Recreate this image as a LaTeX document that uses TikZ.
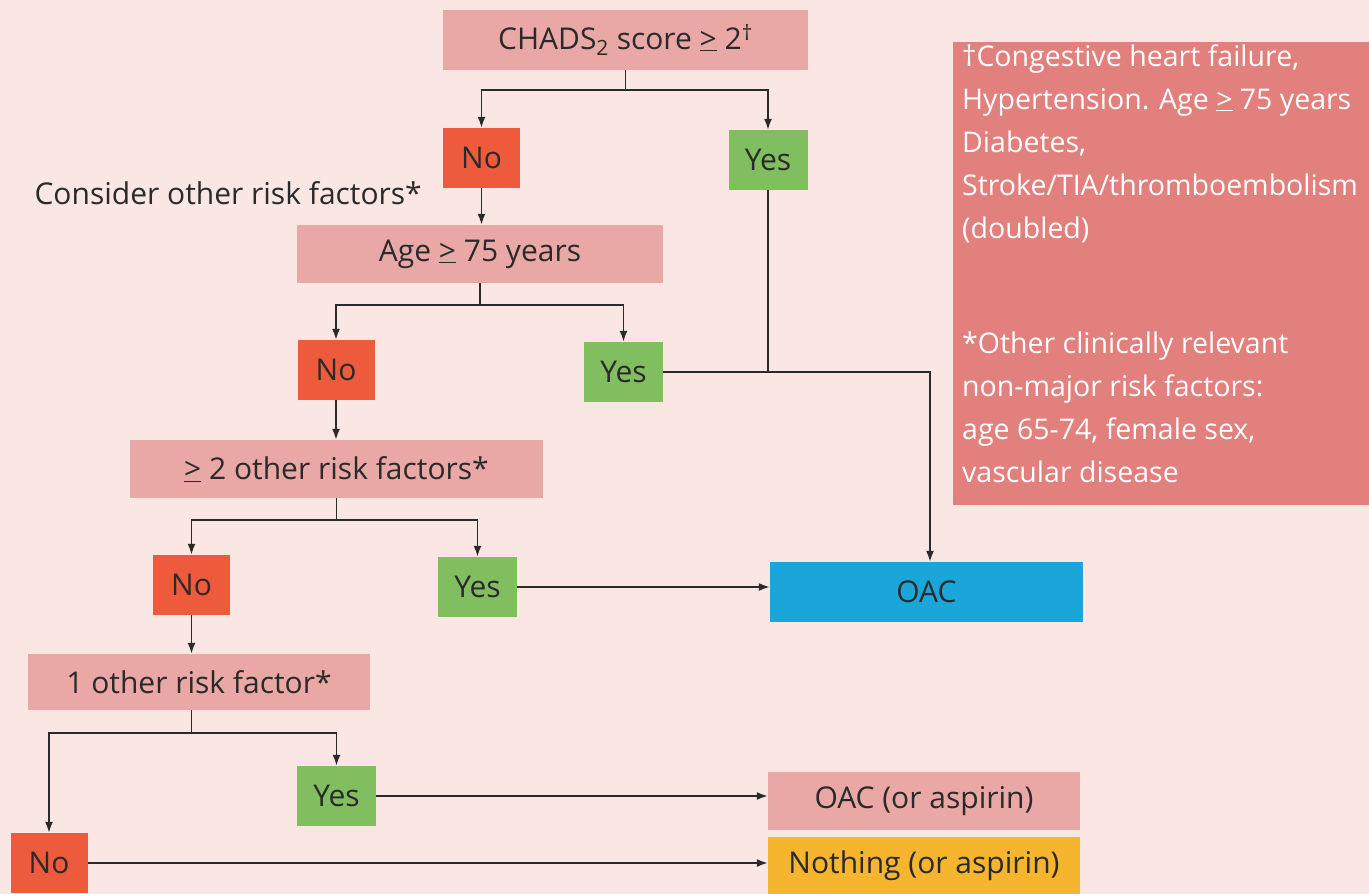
\documentclass[tikz,border=0pt]{standalone}
\usepackage{fontspec}
\setmainfont{Open Sans}
\usetikzlibrary{arrows.meta}
\definecolor{bgc}{HTML}{FAE7E4}
\definecolor{pinkc}{HTML}{E9A8A6}
\definecolor{redc}{HTML}{EE5A3C}
\definecolor{greenc}{HTML}{80BE60}
\definecolor{bluec}{HTML}{1BA6DA}
\definecolor{orangec}{HTML}{F5B52E}
\definecolor{notec}{HTML}{E1807C}
\definecolor{inkc}{HTML}{2A2A2A}
\newcommand{\gequ}{\underline{>}}
\begin{document}
\begin{tikzpicture}[x=1pt,y=-1pt,
  box/.style={inner sep=0pt, align=center, text=inkc, font=\fontsize{30}{34}\selectfont},
  pinkbox/.style={box, fill=pinkc},
  nobox/.style={box, fill=redc, minimum width=77pt, minimum height=60pt},
  yesbox/.style={box, fill=greenc, minimum width=79pt, minimum height=60pt},
  conn/.style={draw=inkc, line width=1.8pt},
  arr/.style={conn, -{Latex[length=11pt,width=8pt]}},
  notetext/.style={inner sep=0pt, align=left, anchor=north west, text=white,
    font=\fontsize{28.5}{43}\selectfont}
]
\fill[bgc] (0,0) rectangle (1369,894);
\useasboundingbox (0,0) rectangle (1369,894);

% note box
\fill[notec] (953,42) rectangle (1369,505);
\node[notetext] (note1) at (962,44) {†Congestive heart failure,\\Hypertension. Age \gequ{} 75 years\\Diabetes,\\Stroke/TIA/thromboembolism\\(doubled)};
\node[notetext] (note2) at (962,332) {*Other clinically relevant\\non-major risk factors:\\age 65-74, female sex,\\vascular disease};

% boxes
\node[pinkbox, minimum width=365pt, minimum height=60pt] (chads) at (625.5,40) {CHADS\textsubscript{2} score \gequ{} 2\textsuperscript{†}};
\node[nobox] (no1) at (481.5,158) {No};
\node[yesbox] (yes1) at (768,160) {Yes};
\node[box, anchor=east] (consider) at (422,193) {Consider other risk factors*};
\node[pinkbox, minimum width=366pt, minimum height=58pt] (age) at (480,254) {Age \gequ{} 75 years};
\node[nobox] (no2) at (336,370) {No};
\node[yesbox] (yes2) at (623.5,372) {Yes};
\node[pinkbox, minimum width=413pt, minimum height=58pt] (two) at (336.5,469) {\gequ{} 2 other risk factors*};
\node[nobox] (no3) at (191.5,585) {No};
\node[yesbox] (yes3) at (477.5,587) {Yes};
\node[box, fill=bluec, minimum width=313pt, minimum height=60pt] (oac) at (926.5,592) {OAC};
\node[pinkbox, minimum width=342pt, minimum height=56pt] (one) at (199,682) {1 other risk factor*};
\node[yesbox] (yes4) at (336.5,796) {Yes};
\node[nobox] (no4) at (49,863) {No};
\node[pinkbox, minimum width=312pt, minimum height=58pt] (oacasp) at (924,801) {OAC (or aspirin)};
\node[box, fill=orangec, minimum width=312pt, minimum height=57pt] (nothing) at (924,865.5) {Nothing (or aspirin)};

% connectors
\coordinate (s1) at (625.5,90);
\draw[conn] (chads.south) -- (s1);
\draw[arr] (s1) -| (no1.north);
\draw[arr] (s1) -| (yes1.north);
\draw[arr] (no1.south) -- (age.north -| no1.south);

\coordinate (s2) at (480,305);
\draw[conn] (age.south) -- (s2);
\draw[arr] (s2) -| (no2.north);
\draw[arr] (s2) -| (yes2.north);

\coordinate (j) at (930,372);
\draw[conn] (yes1.south) -- (yes1.south |- j);
\draw[arr] (yes2.east) -- (j) -- (j |- oac.north);

\draw[arr] (no2.south) -- (two.north -| no2.south);

\coordinate (s3) at (336.5,520);
\draw[conn] (two.south) -- (s3);
\draw[arr] (s3) -| (no3.north);
\draw[arr] (s3) -| (yes3.north);
\draw[arr] (yes3.east) -- (yes3.east -| oac.west);

\draw[arr] (no3.south) -- (one.north -| no3.south);

\coordinate (s4) at (191.5,733);
\draw[conn] (one.south -| s4) -- (s4);
\draw[arr] (s4) -| (no4.north);
\draw[arr] (s4) -| (yes4.north);
\coordinate (e4) at (oacasp.west |- yes4.east);
\draw[arr] (yes4.east) -- (e4);
\coordinate (e5) at (nothing.west |- no4.east);
\draw[arr] (no4.east) -- (e5);
\end{tikzpicture}
\end{document}
